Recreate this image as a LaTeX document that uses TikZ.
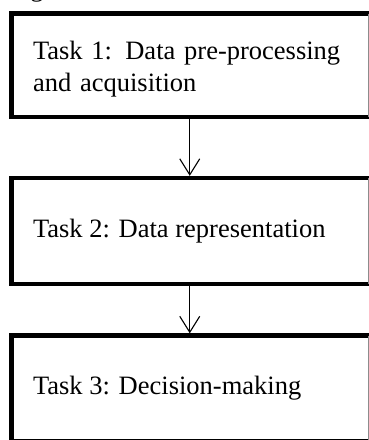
\documentclass[tikz,border=0pt]{standalone}
\usepackage{fontspec}
\setmainfont{Liberation Serif}
\usetikzlibrary{arrows.meta}
\begin{document}
\begin{tikzpicture}[x=1pt,y=-1pt,
  taskbox/.style={draw=none,rectangle,inner sep=0pt,outer sep=0pt,minimum width=356.5pt},
  taskframe/.style={line width=4.5pt,line join=miter,line cap=rect,draw=black},
  rightedge/.style={line width=0.8pt,draw=black!45},
  tasktext/.style={inner sep=0pt,outer sep=0pt,font=\fontsize{26.5}{32.4}\selectfont},
  flow/.style={line width=1.1pt,-{Straight Barb[length=16pt,width=20pt,line width=1.1pt]},shorten >=2.2pt}]
\clip (0,0) rectangle (369,440);
\useasboundingbox (0,0) rectangle (369,440);
% cropped caption fragment at top
\node[tasktext,anchor=base west] (cap) at (30.5,-3.5) {g};
% boxes
\node[taskbox,minimum height=103.5pt] (b1) at (189.75,65.25) {};
\node[taskbox,minimum height=106pt] (b2) at (189.75,231) {};
\node[taskbox,minimum height=106pt] (b3) at (189.75,388.5) {};
\foreach \b in {b1,b2,b3}{
  \draw[taskframe] (\b.north east) -- (\b.north west) -- (\b.south west) -- (\b.south east);
  \draw[rightedge] (\b.north east) -- (\b.south east);
}
% texts
\node[tasktext,anchor=base west,text width=317pt,align=left] (t1) at (33,59.3)
  {\makebox[317pt][s]{Task 1: Data pre-processing}\\and acquisition};
\node[tasktext,anchor=west] (t2) at ([xshift=21.5pt]b2.west) {Task 2: Data representation};
\node[tasktext,anchor=west] (t3) at ([xshift=21.5pt]b3.west) {Task 3: Decision-making};
% connectors
\draw[flow] (b1.south) -- (b2.north);
\draw[flow] (b2.south) -- (b3.north);
\end{tikzpicture}
\end{document}
